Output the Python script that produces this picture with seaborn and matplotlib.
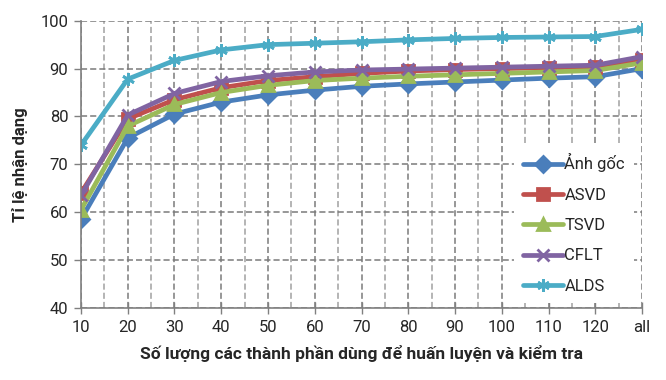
import matplotlib
matplotlib.use('Agg')
import matplotlib.pyplot as plt
import numpy as np
import pandas as pd
import seaborn as sns

# Chart values.
categories = ['10', '20', '30', '40', '50', '60', '70', '80', '90', '100',
              '110', '120', 'all']
anh_goc = [58.5, 75.5, 80.5, 83.0, 84.5, 85.5, 86.3, 86.8, 87.2, 87.6,
           88.0, 88.3, 90.0]
asvd = [64.0, 79.5, 83.5, 86.0, 87.5, 88.3, 89.0, 89.5, 89.8, 90.0,
        90.2, 90.4, 91.8]
tsvd = [60.5, 78.0, 82.5, 85.0, 86.5, 87.5, 88.0, 88.4, 88.7, 89.0,
        89.3, 89.6, 91.2]
cflt = [63.5, 80.3, 84.8, 87.3, 88.5, 89.3, 89.7, 89.9, 90.1, 90.3,
        90.5, 90.7, 92.5]
alds = [74.0, 87.8, 91.7, 93.9, 95.0, 95.3, 95.6, 96.0, 96.3, 96.5,
        96.6, 96.7, 98.2]
series_names = ['Ảnh gốc', 'ASVD', 'TSVD', 'CFLT', 'ALDS']
colors = ['#4A7EBB', '#C0504D', '#9BBB59', '#8064A2', '#4BACC6']
markers = ['D', 's', '^', 'x', (6, 2, 0)]

# Long-form dataframe for seaborn.
pos = np.arange(len(categories))
frames = []
for name, vals in zip(series_names, [anh_goc, asvd, tsvd, cflt, alds]):
    frames.append(pd.DataFrame({'pos': pos, 'value': vals, 'series': name}))
data_df = pd.concat(frames, ignore_index=True)

sns.set_theme(style='white')
plt.rcParams['font.family'] = ['Roboto', 'DejaVu Sans']

fig = plt.figure(figsize=(6.66, 3.8), dpi=100)
ax = fig.add_axes([0.1216, 0.1895, 0.8424, 0.756])

sns.lineplot(data=data_df, x='pos', y='value', hue='series',
             hue_order=series_names, palette=colors, marker='o',
             legend=False, linewidth=3.4, markersize=9, ax=ax)

# Per-series markers (seaborn cannot mix filled and line-art markers).
for line, name, col, mk in zip(ax.lines, series_names, colors, markers):
    line.set_label(name)
    line.set_marker(mk)
    line.set_markeredgecolor(col)
    line.set_markerfacecolor(col)
    line.set_markeredgewidth(2)
    if mk == 'D':
        line.set_markersize(8)

ax.set_xlim(0, len(categories) - 1)
ax.set_ylim(40, 100)
ax.set_xticks(pos)
ax.set_xticklabels(categories)
ax.set_xticks(pos[:-1] + 0.5, minor=True)
ax.set_yticks(range(40, 101, 10))

ax.grid(True, which='major', axis='both', color='#7a7a7a', linestyle=(0, (4, 2)),
        linewidth=1.1)
ax.grid(True, which='minor', axis='x', color='#a0a0a0', linestyle=(0, (4, 2)),
        linewidth=1.1)
ax.set_axisbelow(True)

for side in ['top', 'right']:
    ax.spines[side].set_visible(False)
for side in ['left', 'bottom']:
    ax.spines[side].set_color('#808080')
    ax.spines[side].set_linewidth(1.2)

ax.tick_params(axis='x', which='major', direction='inout', length=8,
               color='#808080', width=1, labelsize=12, pad=5, bottom=True)
ax.tick_params(axis='y', which='major', direction='out', length=5,
               color='#808080', width=1, labelsize=12, pad=4, left=True)
ax.tick_params(which='minor', length=0)

ax.set_xlabel('Số lượng các thành phần dùng để huấn luyện và kiểm tra',
              fontsize=12.5, fontweight='bold', labelpad=7)
ax.set_ylabel('Tỉ lệ nhận dạng', fontsize=12, fontweight='bold', labelpad=9)

leg = ax.legend(loc='lower right', bbox_to_anchor=(0.995, 0.0), frameon=True,
                facecolor='white', edgecolor='none', framealpha=1,
                fancybox=False, fontsize=12, handlelength=2.4,
                handletextpad=0.1, labelspacing=0.92, borderpad=0.55,
                borderaxespad=0.3)

plt.savefig('out.png', dpi=100)
